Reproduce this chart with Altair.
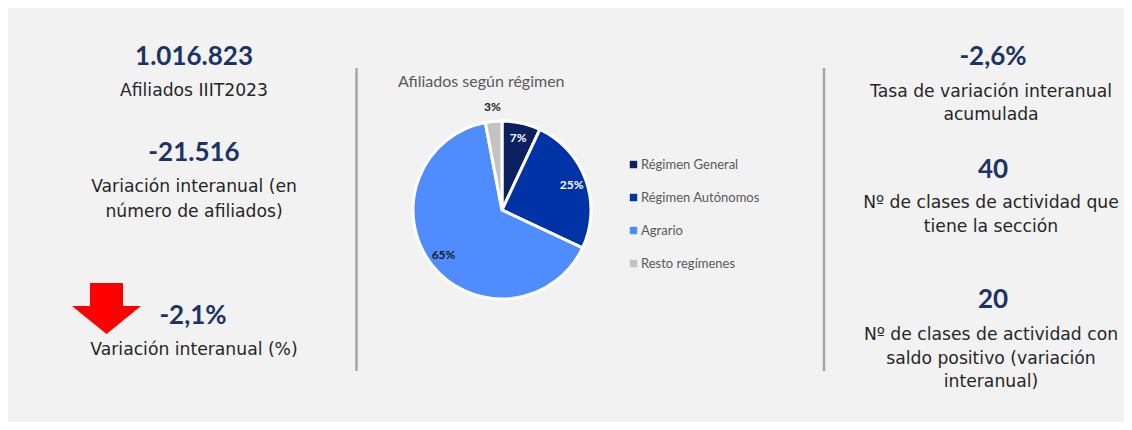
import altair as alt
import pandas as pd

# ---------------- data ----------------
regimenes = ["Régimen General", "Régimen Autónomos", "Agrario", "Resto regímenes"]
porcentajes = [7, 25, 65, 3]
colores = ["#0b2160", "#0033a6", "#4f8dff", "#c3c3c3"]

left_values = ["1.016.823", "-21.516", "-2,1%"]
left_labels = [["Afiliados IIIT2023"],
               ["Variación interanual (en", "número de afiliados)"],
               ["Variación interanual (%)"]]
right_values = ["-2,6%", "40", "20"]
right_labels = [["Tasa de variación interanual", "acumulada"],
                ["Nº de clases de actividad que", "tiene la sección"],
                ["Nº de clases de actividad con", "saldo positivo (variación", "interanual)"]]
pie_title = "Afiliados según régimen"

W, H = 1116, 414
NAVY = "#1c3366"
TXT = "#262626"
BODY_FONT = "DejaVu Sans"
NUM_FONT = "Lato"
BODY_SIZE = 17.2


def txt(s, x, y, size, bold=False, color=TXT, font=BODY_FONT, align="center"):
    return alt.Chart(pd.DataFrame({"t": [s]})).mark_text(
        fontSize=size, font=font, fontWeight="bold" if bold else "normal",
        color=color, align=align, baseline="middle"
    ).encode(text="t:N", x=alt.value(x), y=alt.value(y))


layers = []

# ---- left column ----
lx = 186
left_val_y = [49, 145, 308]
left_lab_y = [[83], [179, 204], [342]]
for v, vy, labs, lys in zip(left_values, left_val_y, left_labels, left_lab_y):
    vx = lx if v != "-2,1%" else 185
    layers.append(txt(v, vx, vy, 26, bold=True, color=NAVY, font=NUM_FONT))
    for l, ly in zip(labs, lys):
        layers.append(txt(l, lx, ly, BODY_SIZE))

# red arrow
arrow_path = ("M-0.478,-0.739 L0.478,-0.739 L0.478,-0.072 L1,-0.072 "
              "L0,0.739 L-1,-0.072 L-0.478,-0.072 Z")
layers.append(
    alt.Chart(pd.DataFrame({"a": [1]})).mark_point(
        shape=arrow_path, filled=True, color="#ff0000", opacity=1, size=4761
    ).encode(x=alt.value(98.5), y=alt.value(300.5))
)

# ---- right column ----
rx = 983
right_val_y = [49, 162, 292]
right_lab_y = [[84, 107], [195, 219], [327, 351, 374]]
for v, vy, labs, lys in zip(right_values, right_val_y, right_labels, right_lab_y):
    layers.append(txt(v, rx + 2, vy, 26, bold=True, color=NAVY, font=NUM_FONT))
    for l, ly in zip(labs, lys):
        layers.append(txt(l, rx, ly, BODY_SIZE))

# ---- dividers ----
for dx in [348.5, 816]:
    layers.append(
        alt.Chart(pd.DataFrame({"a": [1]})).mark_rule(color="#a6a6a6", strokeWidth=2.5)
        .encode(x=alt.value(dx), y=alt.value(60), y2=alt.value(363))
    )

# ---- pie ----
pie_df = pd.DataFrame({"regimen": regimenes, "pct": porcentajes,
                       "orden": list(range(len(regimenes)))})
cx, cy, R = 494, 202, 89

base = alt.Chart(pie_df).encode(
    theta=alt.Theta("pct:Q", stack=True),
    order=alt.Order("orden:Q"),
)

pie = base.mark_arc(outerRadius=R, stroke="white", strokeWidth=3).encode(
    x=alt.value(cx), y=alt.value(cy),
    color=alt.Color(
        "regimen:N",
        scale=alt.Scale(domain=regimenes, range=colores),
        legend=alt.Legend(
            title=None, orient="none", legendX=619, legendY=150,
            symbolType="square", symbolSize=55, symbolStrokeWidth=0,
            labelFont=NUM_FONT, labelFontSize=13, labelColor="#595959",
            rowPadding=19, labelOffset=1, labelLimit=300,
        ),
    ),
)

inner_lbl = base.transform_calculate(
    lbl="datum.pct >= 5 ? datum.pct + '%' : ''"
).mark_text(radius=74, font=NUM_FONT, fontWeight="bold", fontSize=12).encode(
    x=alt.value(cx), y=alt.value(cy),
    text="lbl:N",
    color=alt.condition(alt.datum.regimen == "Agrario",
                        alt.value("#1a1a1a"), alt.value("white")),
)

outer_lbl = base.transform_calculate(
    lbl="datum.pct < 5 ? datum.pct + '%' : ''"
).mark_text(radius=103, font=NUM_FONT, fontWeight="bold", fontSize=12,
            color="#1a1a1a").encode(
    x=alt.value(cx), y=alt.value(cy), text="lbl:N",
)

layers += [pie, inner_lbl, outer_lbl]
layers.append(txt(pie_title, 390, 74, 16, color="#595959", font=NUM_FONT, align="left"))

chart = alt.layer(*layers).properties(
    width=W, height=H,
    autosize=alt.AutoSizeParams(type="fit", contains="padding"),
    padding=0,
    background="#f2f2f2",
).configure_view(strokeWidth=0)

chart.save("out.html", embed_options={"renderer": "svg", "actions": False})
